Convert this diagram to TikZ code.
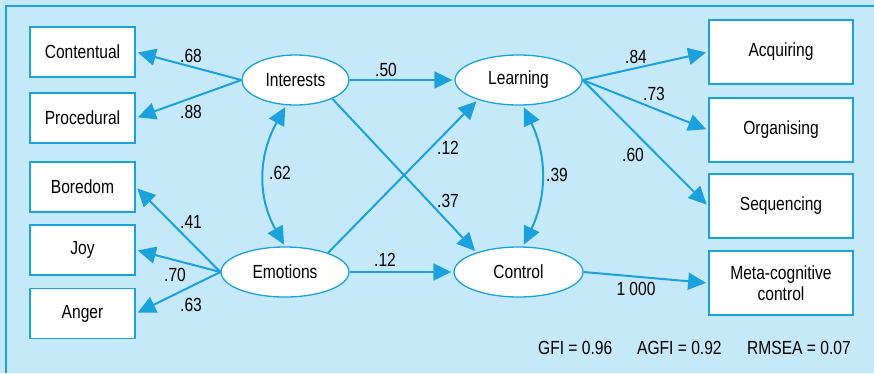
\documentclass[tikz,border=0pt]{standalone}
\usepackage{fontspec}
\setmainfont{Liberation Sans}[FakeStretch=0.82]
\usetikzlibrary{arrows.meta,shapes.geometric}
\definecolor{semblue}{RGB}{27,161,219}
\definecolor{sembg}{RGB}{198,233,249}
\begin{document}
\begin{tikzpicture}[x=1pt,y=-1pt,
  txt/.style={font=\fontsize{19}{21}\selectfont, text=black},
  box/.style={txt,draw=semblue,line width=1.8pt,fill=white,inner sep=0pt,minimum width=105pt,minimum height=50pt},
  rbox/.style={box,minimum width=144pt,minimum height=64pt,align=center},
  lat/.style={txt,ellipse,draw=semblue,line width=1.3pt,fill=white,inner sep=0pt,minimum height=50pt},
  lbl/.style={txt,inner sep=0pt},
  conn/.style={draw=semblue,line width=2pt,-{Triangle[length=18pt,width=17pt]},shorten >=2pt},
  dconn/.style={draw=semblue,line width=2pt,{Triangle[length=18pt,width=17pt]}-{Triangle[length=18pt,width=17pt]},shorten >=2pt,shorten <=2pt}]
\useasboundingbox (0,0) rectangle (874,373);
\fill[sembg] (0,0) rectangle (874,373);
\draw[semblue,line width=2.5pt] (6,373) -- (6,6) -- (874,6);

% left boxes
\node[box] (cont) at (82.5,52) {Contentual};
\node[box] (proc) at (82.5,118) {Procedural};
\node[box] (bore) at (82.5,187) {Boredom};
\node[box] (joy) at (82.5,250) {Joy};
\node[box] (ang) at (82.5,313.5) {Anger};

% right boxes
\node[rbox] (acq) at (781,52) {Acquiring};
\node[rbox] (org) at (781,130) {Organising};
\node[rbox] (seq) at (781,206) {Sequencing};
\node[rbox] (meta) at (781,283) {Meta-cognitive\\control};

% latent variables
\node[lat,minimum width=107pt] (int) at (295.5,80) {Interests};
\node[lat,minimum width=127pt] (lea) at (518.5,80) {Learning};
\node[lat,minimum width=128pt] (emo) at (285,272) {Emotions};
\node[lat,minimum width=129pt] (ctl) at (518.5,272) {Control};

% connectors
\draw[conn] (int.west) -- (cont.east);
\draw[conn] (int.west) -- (proc.east);
\draw[conn] (emo.west) -- (bore.east);
\draw[conn] (emo.west) -- (joy.east);
\draw[conn] (emo.west) -- (ang.east);
\draw[conn] (int.east) -- (lea.west);
\draw[conn] (emo.east) -- (ctl.west);
\draw[conn] (int.-27) -- (ctl.155);
\draw[conn] (emo.24) -- (lea.206);
\draw[conn] (lea.east) -- (acq.west);
\draw[conn] (lea.east) -- (org.west);
\draw[conn] (lea.east) -- (seq.west);
\draw[conn] (ctl.east) -- (meta.west);
\draw[dconn] (int.250) .. controls +(-28,50) and +(-28,-50) .. (emo.north);
\draw[dconn] (lea.-80) .. controls +(24,50) and +(24,-50) .. (ctl.80);

% labels
\node[lbl] (l68) at (191,56) {.68};
\node[lbl] (l88) at (191,112) {.88};
\node[lbl] (l41) at (191,222) {.41};
\node[lbl] (l70) at (175,275) {.70};
\node[lbl] (l63) at (191,305) {.63};
\node[lbl] (l62) at (280,173) {.62};
\node[lbl] (l50) at (386,70) {.50};
\node[lbl] (l12a) at (448,148) {.12};
\node[lbl] (l37) at (448,201) {.37};
\node[lbl] (l12b) at (385,260) {.12};
\node[lbl] (l39) at (557,175) {.39};
\node[lbl] (l84) at (636,57) {.84};
\node[lbl] (l73) at (654,94) {.73};
\node[lbl] (l60) at (633,155) {.60};
\node[lbl] (l1000) at (636,289) {1 000};

% fit statistics
\node[lbl,anchor=west] (gfi) at (538,348) {GFI = 0.96};
\node[lbl,anchor=west] (agfi) at (637,348) {AGFI = 0.92};
\node[lbl,anchor=west] (rmsea) at (747,348) {RMSEA = 0.07};
\end{tikzpicture}
\end{document}
